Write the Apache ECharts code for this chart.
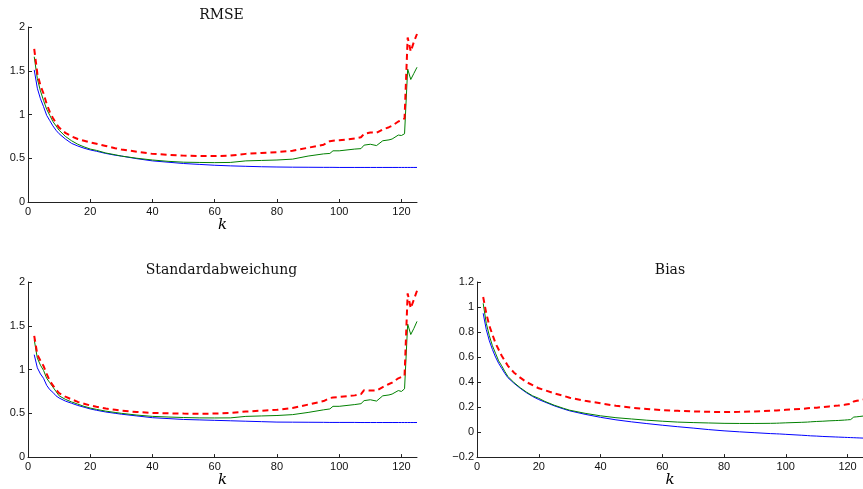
<!DOCTYPE html>
<html>
<head>
<meta charset="utf-8">
<script src="https://cdn.jsdelivr.net/npm/echarts@6/dist/echarts.min.js"></script>
<style>html,body{margin:0;padding:0;background:#fff}#c{width:863px;height:489px}</style>
</head>
<body>
<div id="c"></div>
<script>
var K = [2,3,4,5,6,7,8,9,10,12,14,16,18,20,22,25,28,30,35,40,45,50,55,60,65,70,75,80,85,90,95,97,98,100,105,107,108,110,112,114,116,117,119,120,121,122,123,124,125];

var rmseBlue = [1.51,1.30,1.18,1.09,0.99,0.93,0.87,0.82,0.78,0.72,0.67,0.64,0.615,0.595,0.58,0.555,0.535,0.525,0.495,0.47,0.455,0.44,0.43,0.42,0.413,0.408,0.403,0.40,0.398,0.397,0.396,0.396,0.396,0.395,0.395,0.395,0.395,0.395,0.395,0.395,0.395,0.395,0.395,0.395,0.395,0.395,0.395,0.395,0.395];
var rmseGreen = [1.66,1.41,1.27,1.16,1.06,0.99,0.92,0.87,0.82,0.75,0.70,0.66,0.63,0.605,0.59,0.56,0.54,0.525,0.50,0.48,0.465,0.455,0.452,0.45,0.452,0.47,0.475,0.48,0.49,0.525,0.55,0.555,0.585,0.585,0.605,0.61,0.65,0.66,0.645,0.70,0.71,0.72,0.765,0.76,0.78,1.52,1.40,1.47,1.54];
var rmseRed = [1.75,1.47,1.33,1.24,1.12,1.03,0.96,0.90,0.85,0.79,0.75,0.72,0.70,0.68,0.665,0.64,0.615,0.60,0.575,0.55,0.54,0.53,0.525,0.525,0.53,0.55,0.56,0.57,0.585,0.62,0.655,0.695,0.70,0.705,0.725,0.74,0.78,0.795,0.79,0.83,0.855,0.87,0.92,0.935,0.955,1.88,1.72,1.83,1.92];

var stdBlue = [1.17,1.02,0.95,0.90,0.82,0.77,0.74,0.70,0.675,0.64,0.615,0.59,0.57,0.55,0.535,0.515,0.50,0.49,0.47,0.45,0.44,0.43,0.425,0.42,0.415,0.41,0.405,0.40,0.399,0.398,0.397,0.396,0.396,0.396,0.396,0.395,0.395,0.395,0.395,0.395,0.395,0.395,0.395,0.395,0.395,0.395,0.395,0.395,0.395];
var stdGreen = [1.34,1.13,1.05,0.99,0.90,0.85,0.80,0.75,0.70,0.66,0.63,0.605,0.58,0.56,0.545,0.525,0.51,0.50,0.48,0.465,0.458,0.452,0.448,0.447,0.448,0.465,0.47,0.475,0.485,0.51,0.54,0.55,0.58,0.58,0.60,0.61,0.645,0.655,0.64,0.70,0.71,0.72,0.76,0.75,0.78,1.52,1.40,1.47,1.55];
var stdRed = [1.385,1.17,1.10,1.04,0.95,0.87,0.82,0.77,0.73,0.69,0.66,0.63,0.61,0.59,0.575,0.555,0.54,0.53,0.515,0.505,0.50,0.497,0.495,0.497,0.505,0.52,0.53,0.54,0.56,0.60,0.64,0.675,0.68,0.687,0.705,0.72,0.765,0.76,0.76,0.80,0.835,0.85,0.90,0.915,0.93,1.87,1.70,1.80,1.90];

var biasBlue = [0.95,0.82,0.73,0.66,0.60,0.55,0.51,0.47,0.435,0.39,0.35,0.315,0.285,0.26,0.24,0.21,0.185,0.17,0.142,0.118,0.098,0.082,0.068,0.055,0.043,0.032,0.02,0.01,0.002,-0.005,-0.012,-0.014,-0.015,-0.018,-0.025,-0.028,-0.03,-0.032,-0.035,-0.037,-0.039,-0.04,-0.042,-0.043,-0.044,-0.045,-0.046,-0.047,-0.048];
var biasGreen = [1.03,0.87,0.77,0.69,0.63,0.57,0.53,0.485,0.445,0.395,0.355,0.32,0.29,0.27,0.245,0.215,0.19,0.175,0.15,0.13,0.115,0.105,0.095,0.087,0.08,0.076,0.073,0.07,0.069,0.069,0.07,0.071,0.072,0.074,0.078,0.08,0.082,0.085,0.087,0.09,0.092,0.093,0.096,0.098,0.10,0.12,0.122,0.125,0.128];
var biasRed = [1.08,0.95,0.85,0.78,0.71,0.66,0.61,0.57,0.53,0.475,0.435,0.40,0.375,0.35,0.335,0.31,0.29,0.275,0.25,0.23,0.21,0.195,0.185,0.175,0.17,0.165,0.162,0.16,0.162,0.165,0.17,0.173,0.175,0.178,0.185,0.19,0.192,0.195,0.20,0.205,0.21,0.212,0.218,0.222,0.225,0.245,0.25,0.255,0.26];

var xTicks = [0,20,40,60,80,100,120];
var titles = ['RMSE','Standardabweichung','Bias'];
var xName = 'k';

var panels = [
  {title: titles[0], blue: rmseBlue, green: rmseGreen, red: rmseRed, ymin: 0, ymax: 2, yint: 0.5,
   grid: {left: 28, top: 27, width: 389, height: 175}},
  {title: titles[1], blue: stdBlue, green: stdGreen, red: stdRed, ymin: 0, ymax: 2, yint: 0.5,
   grid: {left: 28, top: 282, width: 389, height: 176}},
  {title: titles[2], blue: biasBlue, green: biasGreen, red: biasRed, ymin: -0.2, ymax: 1.2, yint: 0.2,
   grid: {left: 477, top: 282, width: 388, height: 176}}
];

function pairs(vals) { return K.map(function (k, i) { return [k, vals[i]]; }); }

var grids = [], xAxes = [], yAxes = [], series = [], graphics = [];
var axisColor = '#222';
panels.forEach(function (p, i) {
  grids.push(Object.assign({containLabel: false}, p.grid));
  xAxes.push({
    type: 'value', gridIndex: i, min: 0, max: 125,
    name: xName, nameLocation: 'middle', nameGap: 15,
    nameTextStyle: {fontFamily: 'DejaVu Serif', fontStyle: 'italic', fontSize: 15, color: '#000', verticalAlign: 'top'},
    axisLine: {show: true, onZero: false, lineStyle: {color: axisColor, width: 1}},
    axisTick: {show: true, inside: true, length: 3, customValues: xTicks, lineStyle: {color: axisColor}},
    axisLabel: {customValues: xTicks, fontFamily: 'Liberation Sans', fontSize: 11, color: '#111', margin: 4},
    splitLine: {show: false}
  });
  yAxes.push({
    type: 'value', gridIndex: i, min: p.ymin, max: p.ymax, interval: p.yint,
    axisLine: {show: true, onZero: false, lineStyle: {color: axisColor, width: 1}},
    axisTick: {show: true, inside: true, length: 4, lineStyle: {color: axisColor}},
    axisLabel: {fontFamily: 'Liberation Sans', fontSize: 11, color: '#111', margin: 3,
      formatter: function (v) { return String(Math.round(v * 10) / 10).replace('-', '\u2212'); }},
    splitLine: {show: false}
  });
  series.push({type: 'line', xAxisIndex: i, yAxisIndex: i, data: pairs(p.blue), showSymbol: false,
    lineStyle: {color: '#0000ff', width: 1}, animation: false, z: 2});
  series.push({type: 'line', xAxisIndex: i, yAxisIndex: i, data: pairs(p.green), showSymbol: false,
    lineStyle: {color: '#008000', width: 1}, animation: false, z: 3});
  series.push({type: 'line', xAxisIndex: i, yAxisIndex: i, data: pairs(p.red), showSymbol: false,
    lineStyle: {color: '#ff0000', width: 2, type: [6, 4]}, animation: false, z: 4});
  graphics.push({type: 'text', left: p.grid.left + p.grid.width / 2, top: p.grid.top - 19,
    style: {text: p.title, fontFamily: 'DejaVu Serif', fontSize: 14, fill: '#111', textAlign: 'center'}});
});

var chart = echarts.init(document.getElementById('c'), null, {renderer: 'canvas'});
chart.setOption({
  animation: false,
  grid: grids, xAxis: xAxes, yAxis: yAxes, series: series
});
// titles
var gopts = panels.map(function (p) {
  return {type: 'text', x: p.grid.left + p.grid.width / 2 - 1, y: p.grid.top - 12,
    style: {text: p.title, font: '14px "DejaVu Serif"', fill: '#111', align: 'center', verticalAlign: 'middle'}};
});
chart.setOption({graphic: gopts});
</script>
</body>
</html>
